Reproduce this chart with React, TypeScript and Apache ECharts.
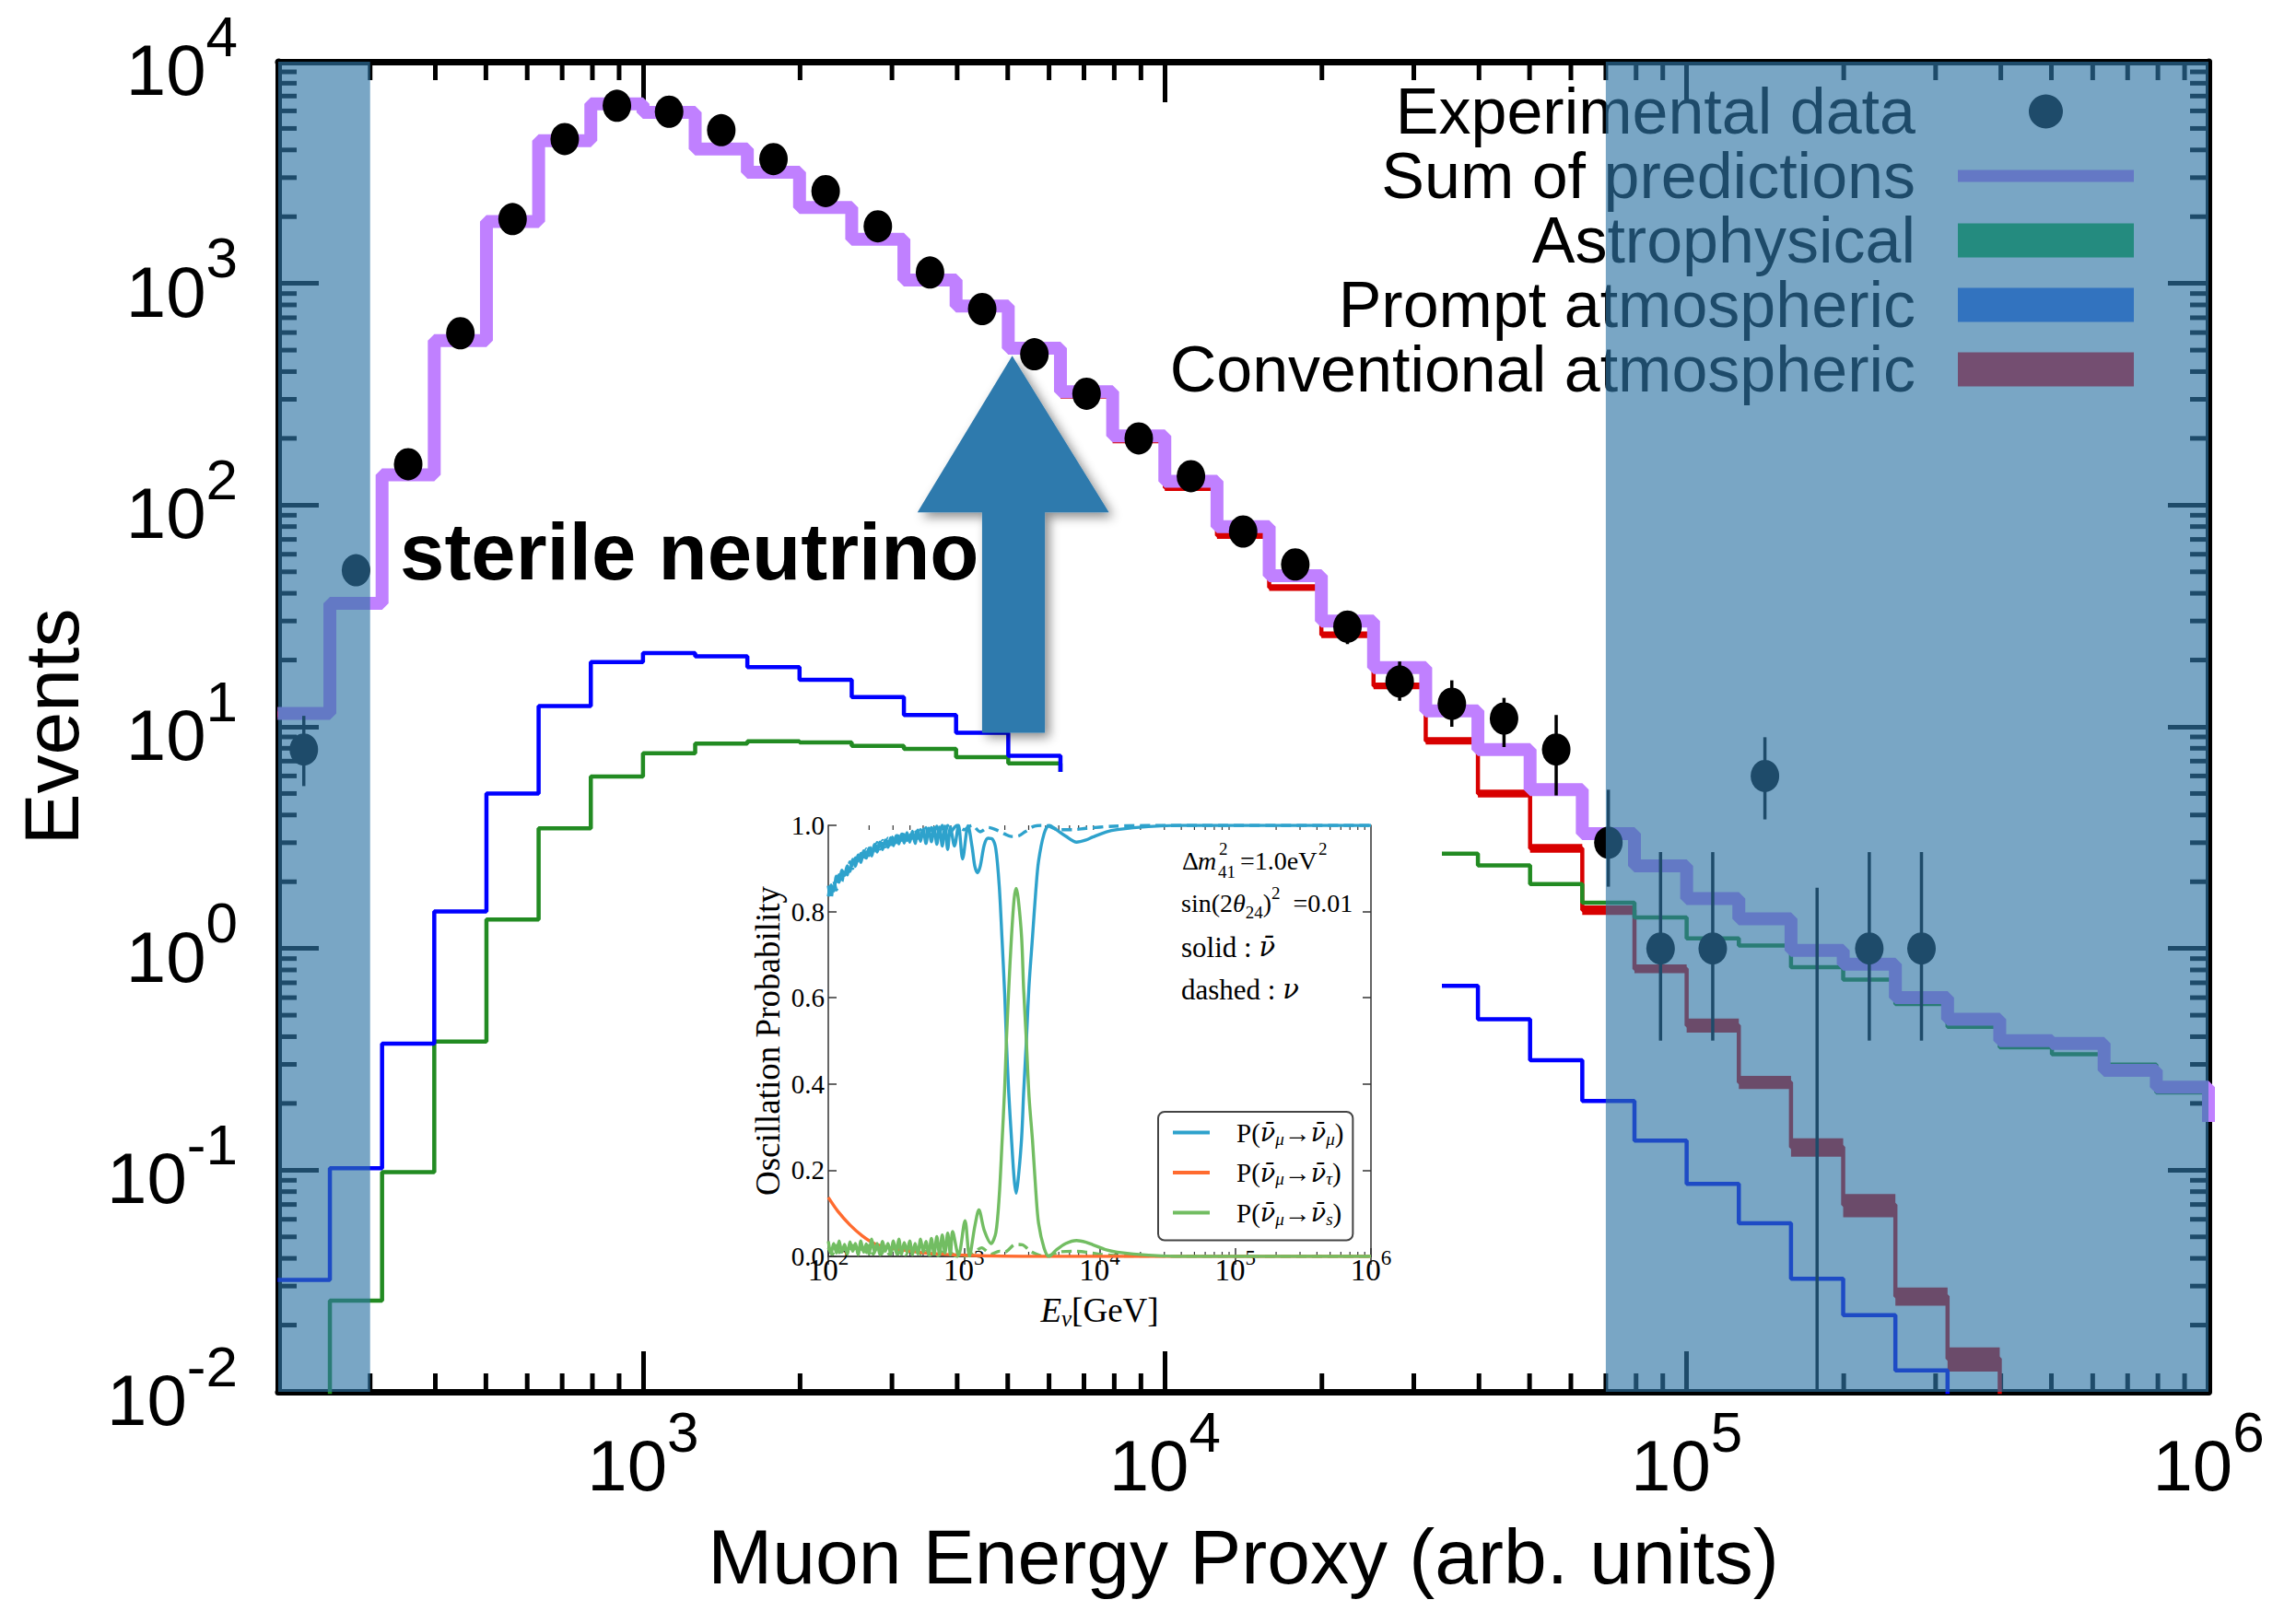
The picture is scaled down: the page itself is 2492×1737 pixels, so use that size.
import React, { useEffect, useRef } from 'react';
import * as echarts from 'echarts';

const FONT = "'Liberation Sans', Arial, Helvetica, sans-serif";
const SERIF = "'Liberation Serif', 'DejaVu Serif', 'Times New Roman', serif";
const MARKFONT = "'DejaVu Serif', 'Liberation Serif', serif";

const X_MIN = 200;
const X_MAX = 1e6;
const Y_MIN = 0.01;
const Y_MAX = 1e4;

// ---------------- main panel ----------------
// histogram bin edges, log10(muon energy proxy)
const binEdgesLog = [2.3, 2.4, 2.5, 2.6, 2.7, 2.8, 2.9, 3.0, 3.1, 3.2, 3.3, 3.4, 3.5, 3.6, 3.7, 3.8, 3.9, 4.0, 4.1, 4.2, 4.3, 4.4, 4.5, 4.6, 4.7, 4.8, 4.9, 5.0, 5.1, 5.2, 5.3, 5.4, 5.5, 5.6, 5.7, 5.8, 5.9, 6.0];

const sumPredictions = [11.5, 36, 137, 552, 1900, 4400, 6450, 5910, 4040, 3170, 2200, 1580, 1035, 790, 510, 325, 205, 128, 80, 48, 30, 18.5, 11.8, 7.9, 5.2, 3.3, 2.36, 1.68, 1.36, 0.98, 0.85, 0.6, 0.48, 0.384, 0.373, 0.282, 0.237];
const sumTailValue = 0.165;

const conventional = [11.4, 35.9, 136.5, 550, 1893, 4385, 6425, 5880, 4010, 3142, 2175, 1558, 1016, 773, 494, 313, 197, 120, 73, 42.5, 26, 15.3, 8.65, 5.0, 2.83, 1.49, 0.81, 0.45, 0.249, 0.127, 0.0697, 0.027, 0.0141, 0.005, 0.003, 0.002, 0.001];
const conventionalUnc = [0.035, 0.035, 0.035, 0.035, 0.035, 0.035, 0.035, 0.035, 0.035, 0.035, 0.035, 0.035, 0.035, 0.035, 0.035, 0.035, 0.035, 0.035, 0.035, 0.035, 0.035, 0.035, 0.038, 0.04, 0.045, 0.05, 0.045, 0.072, 0.068, 0.095, 0.12, 0.095, 0.125, 0.125, 0.125, 0.125, 0.125];

const prompt = [0.032, 0.102, 0.372, 1.47, 5.0, 12.4, 19.6, 21.5, 20.8, 18.6, 16.3, 13.6, 11.3, 9.4, 7.4, 5.0, 3.9, 3.0, 2.2, 1.6, 1.15, 0.86, 0.678, 0.479, 0.313, 0.205, 0.136, 0.0867, 0.0576, 0.0324, 0.0222, 0.0125, 0.005, 0.003, 0.002, 0.0015, 0.001];

const astrophysical = [0.005, 0.0258, 0.098, 0.38, 1.35, 3.48, 5.97, 7.6, 8.4, 8.6, 8.5, 8.2, 7.95, 7.3, 6.84, 5.8, 5.3, 4.8, 4.3, 3.8, 3.3, 2.95, 2.68, 2.37, 1.95, 1.61, 1.38, 1.11, 1.03, 0.824, 0.724, 0.561, 0.443, 0.358, 0.333, 0.299, 0.224];

// experimental data (0 = empty bin, null = no entry)
const dataEvents = [7.9, 50.8, 153, 596, 1950, 4480, 6330, 5950, 4910, 3640, 2610, 1810, 1120, 766, 479, 318, 200, 135, 76, 54, 28.3, 16, 12.7, 10.9, 7.9, 3.0, 1.0, 1.0, 6.0, 0, 1.0, 1.0, null, null, null, null, null];
const dataErrLow = [5.4, 44, 141, 572, 1906, 4413, 6250, 5873, 4840, 3580, 2559, 1767, 1087, 738, 457, 300, 186, 123, 67, 46.5, 23.6, 13.1, 10, 8.1, 4.9, 1.9, 0.384, 0.384, 3.82, 0.01, 0.384, 0.384, null, null, null, null, null];
const dataErrHigh = [11.2, 58, 166, 620, 1994, 4547, 6410, 6027, 4980, 3700, 2661, 1853, 1153, 794, 501, 336, 214, 147, 85, 61.5, 32.4, 19.7, 16.2, 13.5, 11.3, 5.2, 2.72, 2.72, 8.97, 1.88, 2.72, 2.72, null, null, null, null, null];

// shaded (excluded) energy ranges
const shadedRanges = [[200, 300], [70000, 1000000]];

// annotation arrow outline, in data coordinates
const arrowE = [5100, 7816, 5890, 5890, 4465, 4465, 3357];
const arrowV = [472, 92.7, 92.7, 9.4, 9.4, 92.7, 92.7];

const legendNames = ['Experimental data', 'Sum of predictions', 'Astrophysical', 'Prompt atmospheric', 'Conventional atmospheric'];

// ---------------- inset: oscillation probabilities [log10(E/GeV), P] ----------------
const muMuAnti = [[2.00, 0.835], [2.02, 0.862], [2.04, 0.848], [2.06, 0.882], [2.08, 0.868], [2.10, 0.896], [2.12, 0.884], [2.14, 0.906], [2.16, 0.893], [2.18, 0.921], [2.20, 0.905], [2.22, 0.931], [2.24, 0.914], [2.26, 0.941], [2.28, 0.924], [2.30, 0.947], [2.32, 0.929], [2.34, 0.956], [2.36, 0.938], [2.38, 0.961], [2.40, 0.944], [2.42, 0.966], [2.44, 0.949], [2.46, 0.971], [2.48, 0.953], [2.50, 0.976], [2.52, 0.957], [2.54, 0.980], [2.56, 0.959], [2.58, 0.983], [2.60, 0.961], [2.62, 0.986], [2.64, 0.958], [2.66, 0.989], [2.68, 0.963], [2.70, 0.991], [2.72, 0.958], [2.74, 0.993], [2.76, 0.962], [2.78, 0.995], [2.80, 0.956], [2.82, 0.996], [2.84, 0.952], [2.86, 0.998], [2.88, 0.944], [2.90, 0.996], [2.93, 0.952], [2.96, 1.0], [2.99, 0.922], [3.03, 0.999], [3.06, 0.95], [3.08, 0.905], [3.10, 0.89], [3.12, 0.905], [3.15, 0.955], [3.178, 0.97], [3.21, 0.968], [3.235, 0.945], [3.26, 0.86], [3.28, 0.74], [3.30, 0.61], [3.313, 0.5], [3.33, 0.38], [3.35, 0.275], [3.37, 0.18], [3.385, 0.147], [3.40, 0.18], [3.425, 0.275], [3.44, 0.38], [3.46, 0.5], [3.48, 0.63], [3.505, 0.74], [3.53, 0.85], [3.55, 0.917], [3.59, 0.98], [3.627, 1.0], [3.68, 0.99], [3.75, 0.975], [3.83, 0.961], [3.90, 0.966], [3.95, 0.973], [4.05, 0.985], [4.13, 0.99], [4.36, 0.997], [4.6, 1.0], [6.0, 1.0]];
const muMuNu = [[2.00, 0.86], [2.02, 0.83], [2.04, 0.87], [2.06, 0.85], [2.08, 0.885], [2.10, 0.87], [2.12, 0.9], [2.14, 0.885], [2.16, 0.915], [2.18, 0.9], [2.20, 0.925], [2.22, 0.91], [2.24, 0.935], [2.26, 0.92], [2.28, 0.945], [2.30, 0.93], [2.32, 0.95], [2.34, 0.94], [2.36, 0.96], [2.38, 0.945], [2.40, 0.965], [2.42, 0.95], [2.44, 0.97], [2.46, 0.955], [2.48, 0.975], [2.50, 0.96], [2.52, 0.98], [2.54, 0.965], [2.56, 0.985], [2.58, 0.965], [2.60, 0.985], [2.62, 0.97], [2.64, 0.99], [2.66, 0.97], [2.68, 0.99], [2.70, 0.975], [2.72, 0.995], [2.74, 0.975], [2.76, 0.995], [2.78, 0.98], [2.80, 0.998], [2.82, 0.98], [2.84, 1.0], [2.86, 0.98], [2.88, 1.0], [2.90, 0.985], [2.95, 1.0], [3.0, 0.99], [3.06, 1.0], [3.12, 0.985], [3.18, 0.995], [3.25, 0.988], [3.30, 0.98], [3.35, 0.974], [3.40, 0.975], [3.45, 0.985], [3.52, 0.998], [3.6, 1.0], [3.7, 0.99], [3.8, 0.99], [3.9, 0.993], [4.1, 0.998], [4.4, 1.0], [6.0, 1.0]];
const muSAnti = [[2.00, 0.035], [2.02, 0.006], [2.04, 0.03], [2.06, 0.008], [2.08, 0.036], [2.10, 0.01], [2.12, 0.028], [2.14, 0.005], [2.16, 0.034], [2.18, 0.012], [2.20, 0.03], [2.22, 0.004], [2.24, 0.036], [2.26, 0.01], [2.28, 0.029], [2.30, 0.006], [2.32, 0.04], [2.34, 0.011], [2.36, 0.03], [2.38, 0.004], [2.40, 0.035], [2.42, 0.012], [2.44, 0.03], [2.46, 0.005], [2.48, 0.036], [2.50, 0.009], [2.52, 0.04], [2.54, 0.005], [2.56, 0.032], [2.58, 0.011], [2.60, 0.036], [2.62, 0.004], [2.64, 0.03], [2.66, 0.006], [2.68, 0.04], [2.70, 0.01], [2.72, 0.035], [2.74, 0.004], [2.76, 0.042], [2.78, 0.005], [2.80, 0.046], [2.82, 0.004], [2.84, 0.05], [2.86, 0.008], [2.88, 0.054], [2.90, 0.004], [2.916, 0.058], [2.96, 0.002], [3.008, 0.083], [3.04, 0.001], [3.08, 0.07], [3.11, 0.108], [3.15, 0.06], [3.2, 0.03], [3.235, 0.055], [3.26, 0.14], [3.28, 0.26], [3.30, 0.39], [3.313, 0.5], [3.33, 0.62], [3.35, 0.74], [3.37, 0.83], [3.385, 0.854], [3.40, 0.83], [3.425, 0.74], [3.44, 0.62], [3.46, 0.5], [3.48, 0.37], [3.505, 0.27], [3.53, 0.15], [3.55, 0.077], [3.59, 0.02], [3.627, 0.0], [3.68, 0.015], [3.75, 0.03], [3.83, 0.037], [3.90, 0.033], [3.95, 0.027], [4.05, 0.015], [4.13, 0.01], [4.36, 0.003], [4.6, 0.0], [6.0, 0.0]];
const muSNu = [[2.00, 0.02], [2.03, 0.005], [2.06, 0.025], [2.09, 0.005], [2.12, 0.02], [2.15, 0.005], [2.18, 0.025], [2.21, 0.005], [2.24, 0.02], [2.27, 0.005], [2.30, 0.025], [2.33, 0.005], [2.36, 0.02], [2.39, 0.005], [2.42, 0.02], [2.45, 0.005], [2.48, 0.02], [2.51, 0.005], [2.54, 0.018], [2.57, 0.004], [2.60, 0.015], [2.63, 0.004], [2.66, 0.015], [2.69, 0.003], [2.72, 0.012], [2.75, 0.003], [2.78, 0.01], [2.81, 0.002], [2.84, 0.01], [2.87, 0.002], [2.9, 0.008], [2.95, 0.0], [3.05, 0.003], [3.13, 0.02], [3.2, 0.005], [3.26, 0.012], [3.3, 0.01], [3.38, 0.028], [3.43, 0.027], [3.5, 0.01], [3.6, 0.0], [3.7, 0.01], [3.8, 0.012], [3.9, 0.01], [4.0, 0.005], [4.2, 0.001], [6.0, 0.0]];
const muTauAnti = [[2.0, 0.137], [2.07, 0.105], [2.16, 0.073], [2.25, 0.048], [2.34, 0.03], [2.475, 0.019], [2.66, 0.01], [2.85, 0.005], [3.0, 0.003], [3.2, 0.001], [3.5, 0.0], [6.0, 0.0]];

const NAME_MM = 'P(ν̄μ→ν̄μ)';
const NAME_MT = 'P(ν̄μ→ν̄τ)';
const NAME_MS = 'P(ν̄μ→ν̄s)';

const C_PURPLE = '#c080ff';
const C_RED = '#d80000';
const C_BLUE = '#0000ff';
const C_GREEN = '#228b22';
const C_IN_BLUE = '#2ea2cc';
const C_IN_ORANGE = '#ff6b2f';
const C_IN_GREEN = '#72bd62';

function buildOption(): any {
  const edgesE = binEdgesLog.map((e) => Math.pow(10, e));
  const centers = binEdgesLog.slice(0, -1).map((e, i) => Math.pow(10, (e + binEdgesLog[i + 1]) / 2));
  const step = (vals: number[]) => {
    const pts: number[][] = [];
    vals.forEach((v, i) => {
      pts.push([edgesE[i], v]);
      pts.push([edgesE[i + 1], v]);
    });
    return pts;
  };
  const sumPts = step(sumPredictions);
  sumPts.push([X_MAX, sumTailValue]);

  const dataPts: number[][] = [];
  const errPts: number[][] = [];
  dataEvents.forEach((v, i) => {
    if (v === null) return;
    if (v > 0) dataPts.push([centers[i], v]);
    errPts.push([centers[i], dataErrLow[i] as number, dataErrHigh[i] as number]);
  });

  const convBand = conventional
    .map((v, i) => [edgesE[i], edgesE[i + 1], v * (1 - conventionalUnc[i]), v * (1 + conventionalUnc[i])])
    .filter((d) => d[3] > Y_MIN);

  // minor ticks (2..9 x decade)
  const mult = [2, 3, 4, 5, 6, 7, 8, 9];
  const minorX: number[] = [];
  [2, 3, 4, 5].forEach((k) => mult.forEach((m) => {
    const v = m * Math.pow(10, k);
    if (v > X_MIN && v < X_MAX) minorX.push(v);
  }));
  const minorY: number[] = [];
  [-2, -1, 0, 1, 2, 3].forEach((k) => mult.forEach((m) => minorY.push(m * Math.pow(10, k))));
  const minorTickData = minorX.map((v) => [v, Y_MIN, 0]).concat(minorY.map((v) => [X_MIN, v, 1]));
  const insetMinorX: number[] = [];
  [2, 3, 4, 5].forEach((k) => mult.forEach((m) => insetMinorX.push(m * Math.pow(10, k))));

  const isPow = (v: number) => Math.abs(Math.log10(v) - Math.round(Math.log10(v))) < 1e-6;
  const powLabel = (v: number) => (isPow(v) ? `{b|10}{s|${Math.round(Math.log10(v))}}` : '');

  const mainRich = {
    b: { fontSize: 78, fontFamily: FONT, color: '#000', lineHeight: 136 },
    s: { fontSize: 62, fontFamily: FONT, color: '#000', lineHeight: 62, verticalAlign: 'top' },
  };
  const insetRich = {
    b: { fontSize: 33, fontFamily: SERIF, color: '#000', lineHeight: 50 },
    s: { fontSize: 23, fontFamily: SERIF, color: '#000', lineHeight: 23, verticalAlign: 'top' },
  };

  const mainAxisLine = { show: true, lineStyle: { color: '#000', width: 7 } };
  const mainTick = { show: true, inside: true, length: 44, lineStyle: { color: '#000', width: 5 } };
  const inAxisLine = { show: true, lineStyle: { color: '#333', width: 1.5 } };
  const inTick = { show: true, inside: true, length: 9, lineStyle: { color: '#333', width: 1.5 } };

  const toE = (arr: number[][]) => arr.map((p) => [Math.pow(10, p[0]), p[1]]);

  const insetLegendLabel = (name: string) => {
    const tgt = name === NAME_MM ? 'μ' : name === NAME_MT ? 'τ' : 's';
    return `{g| }{r|P(}{i|ν̄}{sb|μ}{r|→}{i|ν̄}{sb|${tgt}}{r|)}`;
  };

  const annRich = {
    r: { fontSize: 28, fontFamily: SERIF, lineHeight: 40, fill: '#000' },
    i: { fontSize: 28, fontFamily: SERIF, fontStyle: 'italic', lineHeight: 40, fill: '#000' },
    sb: { fontSize: 19, fontFamily: SERIF, lineHeight: 19, verticalAlign: 'bottom', fill: '#000' },
    sp: { fontSize: 19, fontFamily: SERIF, lineHeight: 19, verticalAlign: 'top', fill: '#000' },
    r2: { fontSize: 31, fontFamily: SERIF, lineHeight: 40, fill: '#000' },
    i2: { fontSize: 29, fontFamily: MARKFONT, fontStyle: 'italic', lineHeight: 40, fill: '#000' },
  };

  return {
    animation: false,
    backgroundColor: '#fff',
    grid: [
      { left: 302, top: 67, width: 2095, height: 1451 },
      { left: 899, top: 896, width: 589, height: 468 },
    ],
    xAxis: [
      {
        type: 'log', gridIndex: 0, min: X_MIN, max: X_MAX,
        axisLine: mainAxisLine, axisTick: mainTick, splitLine: { show: false },
        axisLabel: { formatter: powLabel, rich: mainRich, margin: 12 },
        name: 'Muon Energy Proxy (arb. units)', nameLocation: 'middle', nameGap: 137,
        nameTextStyle: { fontSize: 84, fontFamily: FONT, color: '#000' },
      },
      {
        type: 'log', gridIndex: 0, position: 'top', min: X_MIN, max: X_MAX,
        axisLine: mainAxisLine, axisTick: mainTick, splitLine: { show: false }, axisLabel: { show: false },
      },
      {
        type: 'log', gridIndex: 1, min: 100, max: 1e6, z: 7,
        axisLine: inAxisLine, axisTick: inTick, splitLine: { show: false },
        axisLabel: { formatter: powLabel, rich: insetRich, margin: -10 },
        name: '{i|E}{sb|ν}{r|[GeV]}', nameLocation: 'middle', nameGap: 36,
        nameTextStyle: {
          rich: {
            i: { fontSize: 37, fontFamily: SERIF, fontStyle: 'italic', color: '#000', lineHeight: 44 },
            sb: { fontSize: 25, fontFamily: SERIF, fontStyle: 'italic', color: '#000', lineHeight: 25, verticalAlign: 'bottom' },
            r: { fontSize: 37, fontFamily: SERIF, color: '#000', lineHeight: 44 },
          },
        },
      },
      {
        type: 'log', gridIndex: 1, position: 'top', min: 100, max: 1e6, z: 7,
        axisLine: inAxisLine, axisTick: inTick, splitLine: { show: false }, axisLabel: { show: false },
      },
    ],
    yAxis: [
      {
        type: 'log', gridIndex: 0, min: Y_MIN, max: Y_MAX,
        axisLine: mainAxisLine, axisTick: mainTick, splitLine: { show: false },
        axisLabel: { formatter: powLabel, rich: mainRich, margin: 44, padding: [18, 0, 0, 0] },
        name: 'Events', nameLocation: 'middle', nameGap: 204, nameRotate: 90,
        nameTextStyle: { fontSize: 84, fontFamily: FONT, color: '#000' },
      },
      {
        type: 'log', gridIndex: 0, position: 'right', min: Y_MIN, max: Y_MAX,
        axisLine: mainAxisLine, axisTick: mainTick, splitLine: { show: false }, axisLabel: { show: false },
      },
      {
        type: 'value', gridIndex: 1, min: 0, max: 1, interval: 0.2, z: 7,
        axisLine: inAxisLine, axisTick: inTick, splitLine: { show: false },
        axisLabel: { formatter: (v: number) => v.toFixed(1), fontSize: 29, fontFamily: SERIF, color: '#000', margin: 4 },
        name: 'Oscillation Probability', nameLocation: 'middle', nameGap: 47, nameRotate: 90,
        nameTextStyle: { fontSize: 37, fontFamily: SERIF, color: '#000' },
      },
      {
        type: 'value', gridIndex: 1, position: 'right', min: 0, max: 1, interval: 0.2, z: 7,
        axisLine: inAxisLine, axisTick: inTick, splitLine: { show: false }, axisLabel: { show: false },
      },
    ],
    legend: [
      {
        orient: 'vertical', right: 176, top: 86, align: 'right', itemWidth: 191, itemHeight: 37, itemGap: 0,
        padding: 0, selectedMode: false,
        data: [
          { name: legendNames[0], icon: 'circle', itemStyle: { color: '#000', borderWidth: 0 } },
          { name: legendNames[1], icon: 'path://M0,0L191,0L191,13L0,13Z', itemStyle: { color: '#c47fff', borderWidth: 0 } },
          { name: legendNames[2], icon: 'rect', itemStyle: { color: '#12b33c', borderWidth: 0 } },
          { name: legendNames[3], icon: 'rect', itemStyle: { color: '#3a70ee', borderWidth: 0 } },
          { name: legendNames[4], icon: 'rect', itemStyle: { color: '#f00a14', borderWidth: 0 } },
        ],
        formatter: (n: string) => `{t|${n}}`,
        textStyle: { rich: { t: { fontSize: 70, fontFamily: FONT, color: '#000', lineHeight: 70, padding: [0, 41, 0, 0] } } },
      },
      {
        orient: 'vertical', left: 1257, top: 1207, itemWidth: 40, itemHeight: 4, itemGap: 13,
        padding: [8, 10, 14, 16], borderColor: '#444', borderWidth: 2, borderRadius: 7, backgroundColor: '#fff',
        selectedMode: false, z: 9,
        data: [
          { name: NAME_MM, icon: 'rect', itemStyle: { color: C_IN_BLUE, borderWidth: 0 } },
          { name: NAME_MT, icon: 'rect', itemStyle: { color: C_IN_ORANGE, borderWidth: 0 } },
          { name: NAME_MS, icon: 'rect', itemStyle: { color: C_IN_GREEN, borderWidth: 0 } },
        ],
        formatter: insetLegendLabel,
        textStyle: {
          rich: {
            g: { width: 24, fontSize: 29, lineHeight: 32 },
            r: { fontSize: 29, fontFamily: SERIF, color: '#000', lineHeight: 32 },
            i: { fontSize: 27, fontFamily: MARKFONT, fontStyle: 'italic', color: '#000', lineHeight: 32 },
            sb: { fontSize: 19, fontFamily: SERIF, fontStyle: 'italic', color: '#000', lineHeight: 19, verticalAlign: 'bottom' },
          },
        },
      },
    ],
    graphic: [
      { type: 'rect', z: 6, silent: true, shape: { x: 803, y: 838, width: 762, height: 602 }, style: { fill: '#fff' } },
      {
        type: 'text', z: 10, x: 434, y: 598, silent: true,
        style: { text: 'sterile neutrino', fontSize: 87, fontWeight: 'bold', fontFamily: FONT, fill: '#000', align: 'left', verticalAlign: 'middle' },
      },
      { type: 'text', z: 8, x: 1283, y: 934, style: { text: 'Δ', fontSize: 28, fontFamily: SERIF, fill: '#000', verticalAlign: 'middle' } },
      { type: 'text', z: 8, x: 1300, y: 934, style: { text: 'm', fontSize: 28, fontFamily: SERIF, fontStyle: 'italic', fill: '#000', verticalAlign: 'middle' } },
      { type: 'text', z: 8, x: 1323, y: 921, style: { text: '2', fontSize: 19, fontFamily: SERIF, fill: '#000', verticalAlign: 'middle' } },
      { type: 'text', z: 8, x: 1322, y: 946, style: { text: '41', fontSize: 19, fontFamily: SERIF, fill: '#000', verticalAlign: 'middle' } },
      { type: 'text', z: 8, x: 1346, y: 934, style: { text: '=1.0eV', fontSize: 28, fontFamily: SERIF, fill: '#000', verticalAlign: 'middle' } },
      { type: 'text', z: 8, x: 1431, y: 921, style: { text: '2', fontSize: 19, fontFamily: SERIF, fill: '#000', verticalAlign: 'middle' } },
      { type: 'text', z: 8, x: 1282, y: 980, style: { text: '{r|sin(2}{i|θ}{sb|24}{r|)}{sp|2}{r|  =0.01}', rich: annRich, verticalAlign: 'middle', align: 'left' } },
      { type: 'text', z: 8, x: 1282, y: 1028, style: { text: '{r2|solid : }{i2|ν̄}', rich: annRich, verticalAlign: 'middle', align: 'left' } },
      { type: 'text', z: 8, x: 1282, y: 1074, style: { text: '{r2|dashed : }{i2|ν}', rich: annRich, verticalAlign: 'middle', align: 'left' } },
    ],
    series: [
      // minor ticks of main frame
      {
        type: 'custom', xAxisIndex: 0, yAxisIndex: 0, z: 1, silent: true, data: minorTickData,
        encode: { x: 0, y: 1 },
        renderItem: (params: any, api: any) => {
          const kind = api.value(2);
          const st = { stroke: '#000', lineWidth: 5 };
          const L = 20;
          if (kind === 0) {
            const v = api.value(0);
            const pb = api.coord([v, Y_MIN]);
            const pt = api.coord([v, Y_MAX]);
            return {
              type: 'group', children: [
                { type: 'line', shape: { x1: pb[0], y1: pb[1], x2: pb[0], y2: pb[1] - L }, style: st },
                { type: 'line', shape: { x1: pt[0], y1: pt[1], x2: pt[0], y2: pt[1] + L }, style: st },
              ],
            };
          }
          const v = api.value(1);
          const pl = api.coord([X_MIN, v]);
          const pr = api.coord([X_MAX, v]);
          return {
            type: 'group', children: [
              { type: 'line', shape: { x1: pl[0], y1: pl[1], x2: pl[0] + L, y2: pl[1] }, style: st },
              { type: 'line', shape: { x1: pr[0], y1: pr[1], x2: pr[0] - L, y2: pr[1] }, style: st },
            ],
          };
        },
      },
      {
        type: 'custom', name: legendNames[4], xAxisIndex: 0, yAxisIndex: 0, z: 2, silent: true,
        data: convBand, encode: { x: [0, 1], y: [2, 3] },
        itemStyle: { color: C_RED },
        renderItem: (params: any, api: any) => {
          const a = api.coord([api.value(0), api.value(3)]);
          const b = api.coord([api.value(1), api.value(2)]);
          const h = Math.max(b[1] - a[1], 6);
          return { type: 'rect', shape: { x: a[0], y: (a[1] + b[1]) / 2 - h / 2, width: b[0] - a[0], height: h }, style: { fill: C_RED } };
        },
      },
      {
        type: 'line', name: legendNames[4], data: step(conventional), showSymbol: false, z: 2, silent: true,
        lineStyle: { color: C_RED, width: 4.5 }, itemStyle: { color: C_RED },
      },
      {
        type: 'line', name: legendNames[2], data: step(astrophysical), showSymbol: false, z: 2, silent: true,
        lineStyle: { color: C_GREEN, width: 4.5 }, itemStyle: { color: C_GREEN },
      },
      {
        type: 'line', name: legendNames[3], data: step(prompt), showSymbol: false, z: 2, silent: true,
        lineStyle: { color: C_BLUE, width: 4.5 }, itemStyle: { color: C_BLUE },
      },
      {
        type: 'custom', xAxisIndex: 0, yAxisIndex: 0, z: 3, silent: true,
        data: arrowE.map((e, i) => [e, arrowV[i]]), encode: { x: 0, y: 1 },
        renderItem: (params: any, api: any) => {
          if (params.dataIndex !== 0) return null;
          const points = arrowE.map((e, i) => api.coord([e, arrowV[i]]));
          return {
            type: 'polygon', shape: { points },
            style: { fill: '#2f7aad', shadowBlur: 12, shadowColor: 'rgba(0,0,0,0.45)', shadowOffsetX: 5, shadowOffsetY: 5 },
          };
        },
      },
      {
        type: 'line', name: legendNames[1], data: sumPts, showSymbol: false, z: 4, silent: true, clip: false,
        lineStyle: { color: C_PURPLE, width: 14 }, itemStyle: { color: C_PURPLE },
      },
      {
        type: 'custom', xAxisIndex: 0, yAxisIndex: 0, z: 5, silent: true,
        data: errPts, encode: { x: 0, y: [1, 2] },
        renderItem: (params: any, api: any) => {
          const a = api.coord([api.value(0), api.value(1)]);
          const b = api.coord([api.value(0), api.value(2)]);
          return { type: 'line', shape: { x1: a[0], y1: a[1], x2: b[0], y2: b[1] }, style: { stroke: '#000', lineWidth: 3.5 } };
        },
      },
      {
        type: 'scatter', name: legendNames[0], data: dataPts, symbol: 'circle', symbolSize: [31, 35], z: 6, silent: true,
        itemStyle: { color: '#000', opacity: 1 },
      },
      // shaded excluded regions (drawn on top)
      {
        type: 'custom', xAxisIndex: 0, yAxisIndex: 0, z: 20, silent: true,
        data: shadedRanges, encode: { x: [0, 1] },
        renderItem: (params: any, api: any) => {
          const a = api.coord([api.value(0), Y_MAX]);
          const b = api.coord([api.value(1), Y_MIN]);
          return { type: 'rect', shape: { x: a[0], y: a[1], width: b[0] - a[0], height: b[1] - a[1] }, style: { fill: 'rgba(46,116,165,0.645)' } };
        },
      },
      // ---- inset ----
      {
        type: 'custom', xAxisIndex: 2, yAxisIndex: 2, z: 7, silent: true,
        data: insetMinorX.map((v) => [v, 0]), encode: { x: 0, y: 1 },
        renderItem: (params: any, api: any) => {
          const v = api.value(0);
          const pb = api.coord([v, 0]);
          const pt = api.coord([v, 1]);
          const st = { stroke: '#333', lineWidth: 1.2 };
          return {
            type: 'group', children: [
              { type: 'line', shape: { x1: pb[0], y1: pb[1], x2: pb[0], y2: pb[1] - 5 }, style: st },
              { type: 'line', shape: { x1: pt[0], y1: pt[1], x2: pt[0], y2: pt[1] + 5 }, style: st },
            ],
          };
        },
      },
      {
        type: 'line', name: 'P(νμ→νμ) dashed', xAxisIndex: 2, yAxisIndex: 2, z: 8, silent: true, data: toE(muMuNu),
        showSymbol: false, smooth: 0.3, lineStyle: { color: C_IN_BLUE, width: 3.4, type: [11, 6] }, itemStyle: { color: C_IN_BLUE },
      },
      {
        type: 'line', name: 'P(νμ→νs) dashed', xAxisIndex: 2, yAxisIndex: 2, z: 8, silent: true, data: toE(muSNu),
        showSymbol: false, smooth: 0.3, lineStyle: { color: C_IN_GREEN, width: 3.4, type: [11, 6] }, itemStyle: { color: C_IN_GREEN },
      },
      {
        type: 'line', name: NAME_MM, xAxisIndex: 2, yAxisIndex: 2, z: 8, silent: true, data: toE(muMuAnti),
        showSymbol: false, smooth: 0.3, lineStyle: { color: C_IN_BLUE, width: 3.4 }, itemStyle: { color: C_IN_BLUE },
      },
      {
        type: 'line', name: NAME_MT, xAxisIndex: 2, yAxisIndex: 2, z: 8, silent: true, data: toE(muTauAnti),
        showSymbol: false, smooth: 0.3, lineStyle: { color: C_IN_ORANGE, width: 3.4 }, itemStyle: { color: C_IN_ORANGE },
      },
      {
        type: 'line', name: NAME_MS, xAxisIndex: 2, yAxisIndex: 2, z: 8, silent: true, data: toE(muSAnti),
        showSymbol: false, smooth: 0.3, lineStyle: { color: C_IN_GREEN, width: 3.4 }, itemStyle: { color: C_IN_GREEN },
      },
    ],
  };
}

export default function App() {
  const ref = useRef<HTMLDivElement>(null);
  useEffect(() => {
    if (!ref.current) return;
    const chart = echarts.init(ref.current, null, { renderer: 'svg' });
    chart.setOption(buildOption());
    return () => {
      chart.dispose();
    };
  }, []);
  return (
    <div
      ref={ref}
      style={{ position: 'fixed', left: 0, top: 0, width: 2492, height: 1737, background: '#fff' }}
    />
  );
}
